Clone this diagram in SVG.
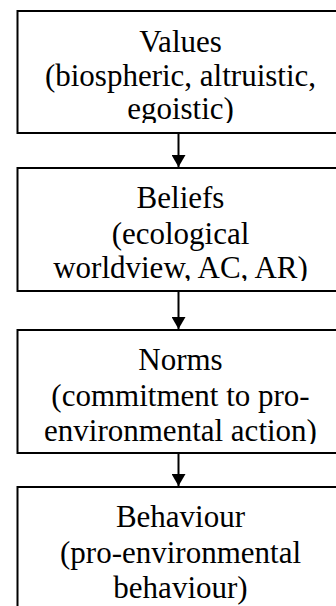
<svg xmlns="http://www.w3.org/2000/svg" width="336" height="606" viewBox="0 0 336 606">
<style>
.box{fill:#fff;stroke:#000;stroke-width:2}
text{font-family:'Liberation Serif','Times New Roman',Times,'DejaVu Serif',serif;font-size:31px;fill:#000;text-anchor:middle}
.c{stroke:#000;stroke-width:2;fill:none}
</style>
<defs>
<marker id="ah" markerWidth="12" markerHeight="14" refX="12" refY="7" orient="auto" markerUnits="userSpaceOnUse" viewBox="0 0 12 14">
<path d="M0,0 L12,7 L0,14 Z" fill="#000"/>
</marker>
<clipPath id="c1"><rect x="18" y="12" width="330" height="111"/></clipPath>
<clipPath id="c2"><rect x="18" y="169" width="330" height="112"/></clipPath>
<clipPath id="c3"><rect x="18" y="331" width="330" height="113"/></clipPath>
<clipPath id="c4"><rect x="18" y="488" width="330" height="118"/></clipPath>
</defs>
<rect width="336" height="606" fill="#fff"/>
<g id="values">
<rect class="box" x="17.5" y="11" width="330" height="122"/>
<g clip-path="url(#c1)" font-family="Liberation Serif, serif">
<text x="180.5" y="52">Values</text>
<text x="180.5" y="86">(biospheric, altruistic,</text>
<text x="180.5" y="119">egoistic)</text>
</g>
</g>
<g id="beliefs">
<rect class="box" x="17.5" y="168" width="330" height="123"/>
<g clip-path="url(#c2)">
<text x="180.5" y="208">Beliefs</text>
<text x="180.5" y="244">(ecological</text>
<text x="180.5" y="278">worldview, AC, AR)</text>
</g>
</g>
<g id="norms">
<rect class="box" x="17.5" y="330" width="330" height="123"/>
<g clip-path="url(#c3)">
<text x="180.5" y="370">Norms</text>
<text x="180.5" y="406">(commitment to pro-</text>
<text x="180.5" y="441">environmental action)</text>
</g>
</g>
<g id="behaviour">
<rect class="box" x="17.5" y="487" width="330" height="130"/>
<g clip-path="url(#c4)">
<text x="180.5" y="527">Behaviour</text>
<text x="180.5" y="563">(pro-environmental</text>
<text x="180.5" y="598">behaviour)</text>
</g>
</g>
<g id="connectors">
<line class="c" x1="178.5" y1="134" x2="178.5" y2="167" marker-end="url(#ah)"/>
<line class="c" x1="178.5" y1="292" x2="178.5" y2="329" marker-end="url(#ah)"/>
<line class="c" x1="178.5" y1="454" x2="178.5" y2="486" marker-end="url(#ah)"/>
</g>
</svg>
